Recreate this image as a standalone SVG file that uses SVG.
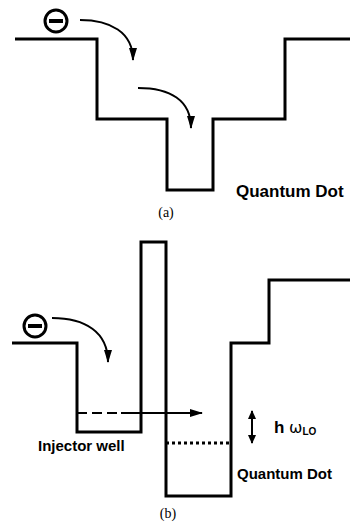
<svg xmlns="http://www.w3.org/2000/svg" width="350" height="529" viewBox="0 0 350 529">
<defs>
<style>
.band{fill:none;stroke:#000;stroke-width:3;stroke-linejoin:miter}
.arr{fill:none;stroke:#000;stroke-width:2}
.lbl{font-family:"Liberation Sans",Arial,sans-serif;font-weight:bold;fill:#000}
.cap{font-family:"Liberation Serif","Times New Roman",serif;font-size:14px;fill:#000}
.el{fill:none;stroke:#000;stroke-width:3}
</style>
<marker id="ah" viewBox="0 0 13 8" refX="12" refY="4" markerWidth="13" markerHeight="8" markerUnits="userSpaceOnUse" orient="auto">
<path d="M0,0 L13,4 L0,8 Z" fill="#000"/>
</marker>
<marker id="ahs" viewBox="0 0 9 8" refX="8" refY="4" markerWidth="9" markerHeight="8" markerUnits="userSpaceOnUse" orient="auto-start-reverse">
<path d="M0,0 L9,4 L0,8 Z" fill="#000"/>
</marker>
</defs>
<rect width="350" height="529" fill="#fff"/>

<g id="panel-a">
<path id="band-a" class="band" d="M15,39 H97 V119 H167 V190 H213 V119 H285 V39 H350"/>
<g id="electron-a">
<circle class="el" cx="56" cy="21" r="11"/>
<line x1="49" y1="21" x2="63" y2="21" stroke="#000" stroke-width="4"/>
</g>
<text id="qd-a" class="lbl" x="236" y="197" font-size="17">Quantum Dot</text>
<text id="cap-a" class="cap" x="166" y="217" text-anchor="middle">(a)</text>
</g>

<g id="panel-b">
<path id="band-b" class="band" d="M12,343 H77 V432 H141 V242 H166 V496 H231 V343 H269 V280 H350"/>
<g id="electron-b">
<circle class="el" cx="35" cy="326" r="11"/>
<line x1="28" y1="326" x2="42" y2="326" stroke="#000" stroke-width="4"/>
</g>
<text id="injector" class="lbl" x="38" y="451" font-size="15">Injector well</text>
<text id="qd-b" class="lbl" x="237" y="479" font-size="15">Quantum Dot</text>
<text id="hw" class="lbl" x="274" y="433" font-size="17">h <tspan font-family="'DejaVu Sans',sans-serif" font-weight="normal" font-size="16">ω</tspan><tspan font-size="10" dy="2">LO</tspan></text>
<text id="cap-b" class="cap" x="168" y="518" text-anchor="middle">(b)</text>
</g>

<g id="connectors">
<path class="arr" d="M80,20 C110,20 133,32 133,60" marker-end="url(#ah)"/>
<path class="arr" d="M138,88 C170,88 191,100 191,128" marker-end="url(#ah)"/>
<path class="arr" d="M52,318 C85,318 108,332 108,362" marker-end="url(#ah)"/>
<line x1="77" y1="413" x2="122" y2="413" stroke="#000" stroke-width="2" stroke-dasharray="10,5"/>
<line x1="121" y1="413" x2="202" y2="413" class="arr" marker-end="url(#ah)"/>
<line x1="166" y1="443" x2="231" y2="443" stroke="#000" stroke-width="3" stroke-dasharray="3,3"/>
<line x1="252" y1="411" x2="252" y2="443" class="arr" marker-start="url(#ahs)" marker-end="url(#ahs)"/>
</g>
</svg>
